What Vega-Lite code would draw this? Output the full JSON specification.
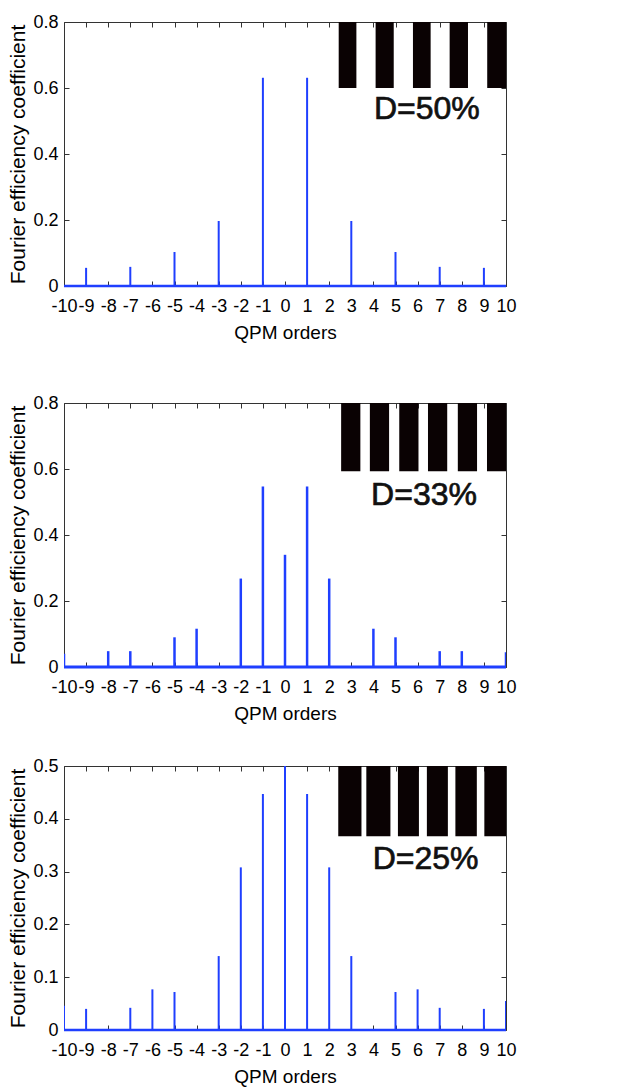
{
  "$schema": "https://vega.github.io/schema/vega-lite/v6.json",
  "background": "white",
  "padding": {"left": 7, "top": 12, "right": 5, "bottom": 5},
  "spacing": 50,
  "config": {
    "view": {"stroke": "#333333", "strokeWidth": 1},
    "axis": {
      "labelFont": "Liberation Sans", "labelFontSize": 18, "labelColor": "#000000",
      "titleFont": "Liberation Sans", "titleFontSize": 19, "titleFontWeight": "normal", "titleColor": "#000000",
      "tickColor": "#333333", "tickSize": -5, "domain": false, "grid": false,
      "labelOverlap": false, "labelFlush": false, "labelBound": false
    },
    "axisLeft": {"titleFontSize": 21}
  },
  "datasets": {
    "stems": [
      {"p": "50", "order": -9, "coef": 0.055}, {"p": "50", "order": -7, "coef": 0.058},
      {"p": "50", "order": -5, "coef": 0.103}, {"p": "50", "order": -3, "coef": 0.197},
      {"p": "50", "order": -1, "coef": 0.631}, {"p": "50", "order": 1, "coef": 0.631},
      {"p": "50", "order": 3, "coef": 0.197}, {"p": "50", "order": 5, "coef": 0.103},
      {"p": "50", "order": 7, "coef": 0.058}, {"p": "50", "order": 9, "coef": 0.055},
      {"p": "33", "order": -10, "coef": 0.04}, {"p": "33", "order": -8, "coef": 0.048},
      {"p": "33", "order": -7, "coef": 0.048}, {"p": "33", "order": -5, "coef": 0.09},
      {"p": "33", "order": -4, "coef": 0.116}, {"p": "33", "order": -2, "coef": 0.268},
      {"p": "33", "order": -1, "coef": 0.547}, {"p": "33", "order": 0, "coef": 0.34},
      {"p": "33", "order": 1, "coef": 0.547}, {"p": "33", "order": 2, "coef": 0.268},
      {"p": "33", "order": 4, "coef": 0.116}, {"p": "33", "order": 5, "coef": 0.09},
      {"p": "33", "order": 7, "coef": 0.048}, {"p": "33", "order": 8, "coef": 0.048},
      {"p": "33", "order": 10, "coef": 0.045},
      {"p": "25", "order": -10, "coef": 0.046}, {"p": "25", "order": -9, "coef": 0.04},
      {"p": "25", "order": -7, "coef": 0.042}, {"p": "25", "order": -6, "coef": 0.077},
      {"p": "25", "order": -5, "coef": 0.072}, {"p": "25", "order": -3, "coef": 0.14},
      {"p": "25", "order": -2, "coef": 0.308}, {"p": "25", "order": -1, "coef": 0.447},
      {"p": "25", "order": 0, "coef": 0.5}, {"p": "25", "order": 1, "coef": 0.447},
      {"p": "25", "order": 2, "coef": 0.308}, {"p": "25", "order": 3, "coef": 0.14},
      {"p": "25", "order": 5, "coef": 0.072}, {"p": "25", "order": 6, "coef": 0.077},
      {"p": "25", "order": 7, "coef": 0.042}, {"p": "25", "order": 9, "coef": 0.04},
      {"p": "25", "order": 10, "coef": 0.055}
    ],
    "bars": [
      {"p": "50", "x0": 2.43, "x1": 3.23, "y0": 0.6, "y1": 0.8},
      {"p": "50", "x0": 4.1, "x1": 4.92, "y0": 0.6, "y1": 0.8},
      {"p": "50", "x0": 5.79, "x1": 6.59, "y0": 0.6, "y1": 0.8},
      {"p": "50", "x0": 7.45, "x1": 8.28, "y0": 0.6, "y1": 0.8},
      {"p": "50", "x0": 9.15, "x1": 10, "y0": 0.6, "y1": 0.8},
      {"p": "33", "x0": 2.54, "x1": 3.41, "y0": 0.593, "y1": 0.8},
      {"p": "33", "x0": 3.84, "x1": 4.71, "y0": 0.593, "y1": 0.8},
      {"p": "33", "x0": 5.17, "x1": 6.04, "y0": 0.593, "y1": 0.8},
      {"p": "33", "x0": 6.47, "x1": 7.34, "y0": 0.593, "y1": 0.8},
      {"p": "33", "x0": 7.82, "x1": 8.69, "y0": 0.593, "y1": 0.8},
      {"p": "33", "x0": 9.14, "x1": 10, "y0": 0.593, "y1": 0.8},
      {"p": "25", "x0": 2.41, "x1": 3.46, "y0": 0.367, "y1": 0.5},
      {"p": "25", "x0": 3.68, "x1": 4.77, "y0": 0.367, "y1": 0.5},
      {"p": "25", "x0": 5.11, "x1": 6.06, "y0": 0.367, "y1": 0.5},
      {"p": "25", "x0": 6.42, "x1": 7.37, "y0": 0.367, "y1": 0.5},
      {"p": "25", "x0": 7.71, "x1": 8.68, "y0": 0.367, "y1": 0.5},
      {"p": "25", "x0": 9.02, "x1": 10, "y0": 0.367, "y1": 0.5}
    ],
    "labels": [
      {"p": "50", "x": 6.42, "y": 0.537, "label": "D=50%"},
      {"p": "33", "x": 6.29, "y": 0.52, "label": "D=33%"},
      {"p": "25", "x": 6.36, "y": 0.323, "label": "D=25%"}
    ]
  },
  "vconcat": [
    {
      "width": 442, "height": 264,
      "resolve": {"axis": {"x": "independent", "y": "independent"}},
      "layer": [
        {"data": {"name": "bars"}, "transform": [{"filter": "datum.p == '50'"}],
         "mark": {"type": "rect", "color": "#0a0203"},
         "encoding": {
           "x": {"field": "x0", "type": "quantitative", "scale": {"domain": [-10, 10], "nice": false}, "axis": null},
           "x2": {"field": "x1"},
           "y": {"field": "y0", "type": "quantitative", "scale": {"domain": [0, 0.8], "nice": false}, "axis": null},
           "y2": {"field": "y1"}}},
        {"data": {"name": "labels"}, "transform": [{"filter": "datum.p == '50'"}],
         "mark": {"type": "text", "font": "Liberation Sans", "fontSize": 32, "color": "#111111", "stroke": "#111111", "strokeWidth": 0.7, "align": "center", "baseline": "middle"},
         "encoding": {
           "x": {"field": "x", "type": "quantitative", "axis": null},
           "y": {"field": "y", "type": "quantitative", "axis": null},
           "text": {"field": "label"}}},
        {"data": {"name": "stems"}, "transform": [{"filter": "datum.p == '50'"}],
         "mark": {"type": "rule", "color": "#1f3fff", "strokeWidth": 2, "clip": true},
         "encoding": {
           "x": {"field": "order", "type": "quantitative",
                 "axis": {"orient": "bottom", "values": [-10,-9,-8,-7,-6,-5,-4,-3,-2,-1,0,1,2,3,4,5,6,7,8,9,10], "labelExpr": "datum.value < 0 ? '-' + abs(datum.value) : '' + datum.value", "labelPadding": 16, "title": "QPM orders", "titlePadding": 8}},
           "y": {"field": "coef", "type": "quantitative",
                 "axis": {"orient": "left", "values": [0, 0.2, 0.4, 0.6, 0.8], "labelExpr": "datum.value == 0 ? '0' : format(datum.value, '.1f')", "labelPadding": 11, "title": "Fourier efficiency coefficient", "titlePadding": 4}},
           "y2": {"datum": 0}}},
        {"data": {"values": [{}]},
         "mark": {"type": "rule", "color": "#1f3fff", "strokeWidth": 2.5},
         "encoding": {
           "x": {"datum": -10, "type": "quantitative", "axis": {"orient": "top", "values": [-10,-9,-8,-7,-6,-5,-4,-3,-2,-1,0,1,2,3,4,5,6,7,8,9,10], "labels": false, "title": null}},
           "x2": {"datum": 10},
           "y": {"datum": 0, "type": "quantitative", "axis": {"orient": "right", "values": [0, 0.2, 0.4, 0.6, 0.8], "labels": false, "title": null}}}}
      ]
    },
    {
      "spacing": 32,
      "vconcat": [
        {
          "width": 442, "height": 264,
          "resolve": {"axis": {"x": "independent", "y": "independent"}},
          "layer": [
            {"data": {"name": "bars"}, "transform": [{"filter": "datum.p == '33'"}],
             "mark": {"type": "rect", "color": "#0a0203"},
             "encoding": {
               "x": {"field": "x0", "type": "quantitative", "scale": {"domain": [-10, 10], "nice": false}, "axis": null},
               "x2": {"field": "x1"},
               "y": {"field": "y0", "type": "quantitative", "scale": {"domain": [0, 0.8], "nice": false}, "axis": null},
               "y2": {"field": "y1"}}},
            {"data": {"name": "labels"}, "transform": [{"filter": "datum.p == '33'"}],
             "mark": {"type": "text", "font": "Liberation Sans", "fontSize": 32, "color": "#111111", "stroke": "#111111", "strokeWidth": 0.7, "align": "center", "baseline": "middle"},
             "encoding": {
               "x": {"field": "x", "type": "quantitative", "axis": null},
               "y": {"field": "y", "type": "quantitative", "axis": null},
               "text": {"field": "label"}}},
            {"data": {"name": "stems"}, "transform": [{"filter": "datum.p == '33'"}],
             "mark": {"type": "rule", "color": "#1f3fff", "strokeWidth": 2.5, "clip": true},
             "encoding": {
               "x": {"field": "order", "type": "quantitative",
                     "axis": {"orient": "bottom", "values": [-10,-9,-8,-7,-6,-5,-4,-3,-2,-1,0,1,2,3,4,5,6,7,8,9,10], "labelExpr": "datum.value < 0 ? '-' + abs(datum.value) : '' + datum.value", "labelPadding": 16, "title": "QPM orders", "titlePadding": 8}},
               "y": {"field": "coef", "type": "quantitative",
                     "axis": {"orient": "left", "values": [0, 0.2, 0.4, 0.6, 0.8], "labelExpr": "datum.value == 0 ? '0' : format(datum.value, '.1f')", "labelPadding": 11, "title": "Fourier efficiency coefficient", "titlePadding": 4}},
               "y2": {"datum": 0}}},
            {"data": {"values": [{}]},
             "mark": {"type": "rule", "color": "#1f3fff", "strokeWidth": 3},
             "encoding": {
               "x": {"datum": -10, "type": "quantitative", "axis": {"orient": "top", "values": [-10,-9,-8,-7,-6,-5,-4,-3,-2,-1,0,1,2,3,4,5,6,7,8,9,10], "labels": false, "title": null}},
               "x2": {"datum": 10},
               "y": {"datum": 0, "type": "quantitative", "axis": {"orient": "right", "values": [0, 0.2, 0.4, 0.6, 0.8], "labels": false, "title": null}}}}
          ]
        },
        {
          "width": 442, "height": 264,
          "resolve": {"axis": {"x": "independent", "y": "independent"}},
          "layer": [
            {"data": {"name": "bars"}, "transform": [{"filter": "datum.p == '25'"}],
             "mark": {"type": "rect", "color": "#0a0203"},
             "encoding": {
               "x": {"field": "x0", "type": "quantitative", "scale": {"domain": [-10, 10], "nice": false}, "axis": null},
               "x2": {"field": "x1"},
               "y": {"field": "y0", "type": "quantitative", "scale": {"domain": [0, 0.5], "nice": false}, "axis": null},
               "y2": {"field": "y1"}}},
            {"data": {"name": "labels"}, "transform": [{"filter": "datum.p == '25'"}],
             "mark": {"type": "text", "font": "Liberation Sans", "fontSize": 32, "color": "#111111", "stroke": "#111111", "strokeWidth": 0.7, "align": "center", "baseline": "middle"},
             "encoding": {
               "x": {"field": "x", "type": "quantitative", "axis": null},
               "y": {"field": "y", "type": "quantitative", "axis": null},
               "text": {"field": "label"}}},
            {"data": {"name": "stems"}, "transform": [{"filter": "datum.p == '25'"}],
             "mark": {"type": "rule", "color": "#1f3fff", "strokeWidth": 2, "clip": true},
             "encoding": {
               "x": {"field": "order", "type": "quantitative",
                     "axis": {"orient": "bottom", "values": [-10,-9,-8,-7,-6,-5,-4,-3,-2,-1,0,1,2,3,4,5,6,7,8,9,10], "labelExpr": "datum.value < 0 ? '-' + abs(datum.value) : '' + datum.value", "labelPadding": 16, "title": "QPM orders", "titlePadding": 8}},
               "y": {"field": "coef", "type": "quantitative",
                     "axis": {"orient": "left", "values": [0, 0.1, 0.2, 0.3, 0.4, 0.5], "labelExpr": "datum.value == 0 ? '0' : format(datum.value, '.1f')", "labelPadding": 11, "title": "Fourier efficiency coefficient", "titlePadding": 4}},
               "y2": {"datum": 0}}},
            {"data": {"values": [{}]},
             "mark": {"type": "rule", "color": "#1f3fff", "strokeWidth": 2.5},
             "encoding": {
               "x": {"datum": -10, "type": "quantitative", "axis": {"orient": "top", "values": [-10,-9,-8,-7,-6,-5,-4,-3,-2,-1,0,1,2,3,4,5,6,7,8,9,10], "labels": false, "title": null}},
               "x2": {"datum": 10},
               "y": {"datum": 0, "type": "quantitative", "axis": {"orient": "right", "values": [0, 0.1, 0.2, 0.3, 0.4, 0.5], "labels": false, "title": null}}}}
          ]
        }
      ]
    }
  ]
}
